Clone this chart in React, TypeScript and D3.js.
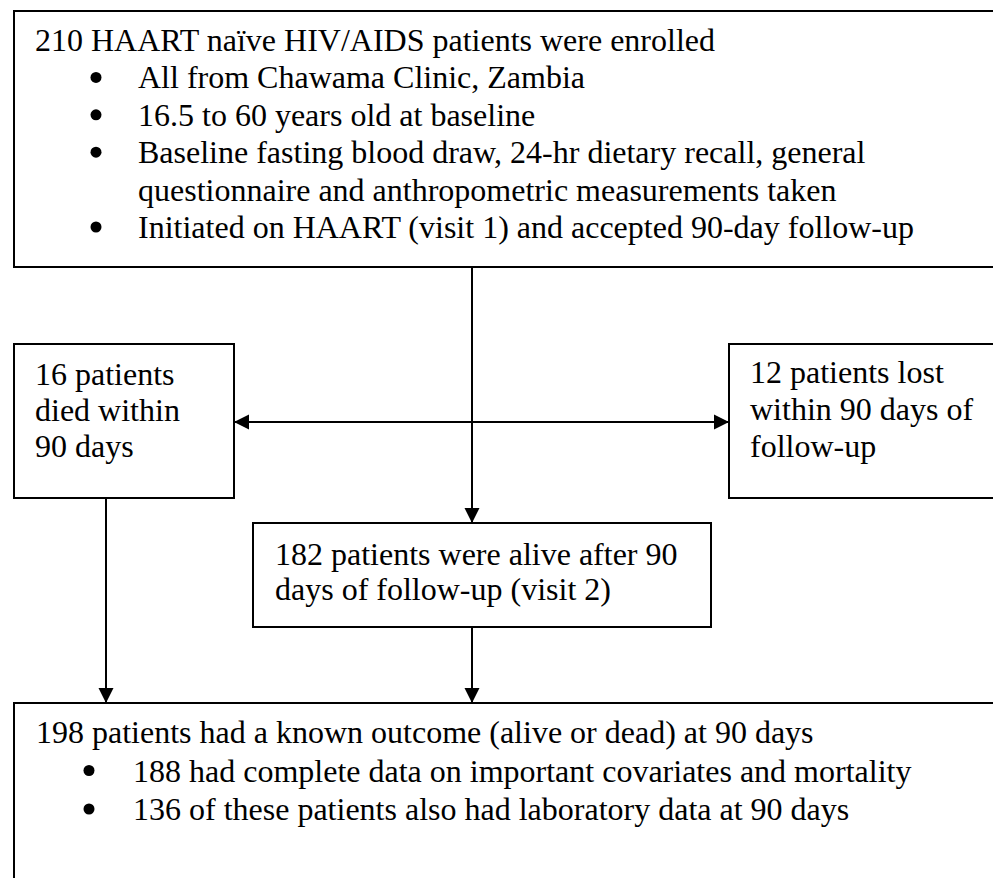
import * as d3 from 'd3'
import React, { useRef, useEffect } from 'react'

// flowchart text, one array per box
const enrolledTitle = '210 HAART naïve HIV/AIDS patients were enrolled'
const enrolledBullets = [
  ['All from Chawama Clinic, Zambia'],
  ['16.5 to 60 years old at baseline'],
  ['Baseline fasting blood draw, 24-hr dietary recall, general', 'questionnaire and anthropometric measurements taken'],
  ['Initiated on HAART (visit 1) and accepted 90-day follow-up'],
]
const diedLines = ['16 patients', 'died within', '90 days']
const lostLines = ['12 patients lost', 'within 90 days of', 'follow-up']
const aliveLines = ['182 patients were alive after 90', 'days of follow-up (visit 2)']
const outcomeTitle = '198 patients had a known outcome (alive or dead) at 90 days'
const outcomeBullets = [
  ['188 had complete data on important covariates and mortality'],
  ['136 of these patients also had laboratory data at 90 days'],
]

export default function App() {
  const svgRef = useRef()

  useEffect(() => {
    const w = 993
    const h = 878
    const svg = d3.select(svgRef.current)
      .attr('width', w)
      .attr('height', h)
    svg.selectAll('*').remove()

    const font = '"Liberation Serif", "Times New Roman", serif'
    const fs = 32

    // boxes (some run off the page on the right / bottom like the original)
    const boxes = [
      { x: 14, y: 11, w: 1100, h: 256 },   // enrolled
      { x: 14, y: 344, w: 220, h: 154 },   // died
      { x: 729, y: 344, w: 400, h: 154 },  // lost
      { x: 253, y: 523, w: 458, h: 104 },  // alive
      { x: 14, y: 703, w: 1100, h: 400 },  // outcome
    ]
    svg.selectAll('rect.box')
      .data(boxes)
      .join('rect')
      .attr('class', 'box')
      .attr('x', d => d.x)
      .attr('y', d => d.y)
      .attr('width', d => d.w)
      .attr('height', d => d.h)
      .attr('fill', 'white')
      .attr('stroke', '#000')
      .attr('stroke-width', 2)

    // connector lines
    const lines = [
      [472, 267, 472, 523],
      [234, 422, 729, 422],
      [106, 498, 106, 703],
      [472, 627, 472, 703],
    ]
    svg.selectAll('line.link')
      .data(lines)
      .join('line')
      .attr('class', 'link')
      .attr('x1', d => d[0]).attr('y1', d => d[1])
      .attr('x2', d => d[2]).attr('y2', d => d[3])
      .attr('stroke', '#000')
      .attr('stroke-width', 2)

    // arrow heads: tip point + direction
    const heads = [
      { x: 472, y: 523, dir: 'down' },
      { x: 106, y: 703, dir: 'down' },
      { x: 472, y: 703, dir: 'down' },
      { x: 234, y: 422, dir: 'left' },
      { x: 729, y: 422, dir: 'right' },
    ]
    const L = 15, half = 7.5
    const headPts = d => {
      if (d.dir === 'down') return [[d.x, d.y], [d.x - half, d.y - L], [d.x + half, d.y - L]]
      if (d.dir === 'left') return [[d.x, d.y], [d.x + L, d.y - half], [d.x + L, d.y + half]]
      return [[d.x, d.y], [d.x - L, d.y - half], [d.x - L, d.y + half]]
    }
    svg.selectAll('path.head')
      .data(heads)
      .join('path')
      .attr('class', 'head')
      .attr('d', d => d3.line()(headPts(d)) + 'Z')
      .attr('fill', '#000')

    // plain text helper
    const addText = (str, x, y) => svg.append('text')
      .attr('x', x)
      .attr('y', y)
      .attr('font-family', font)
      .attr('font-size', fs)
      .attr('fill', '#000')
      .text(str)

    // bullets block
    const bulletBlock = (title, bullets, x, y0, bx, tx, step) => {
      addText(title, x, y0)
      let y = y0
      bullets.forEach(b => {
        b.forEach((line, i) => {
          y += step
          if (i === 0) {
            svg.append('circle').attr('cx', bx).attr('cy', y - 11).attr('r', 5.5).attr('fill', '#000')
          }
          addText(line, tx, y)
        })
      })
    }

    bulletBlock(enrolledTitle, enrolledBullets, 35, 51, 96, 138, 37.4)
    bulletBlock(outcomeTitle, outcomeBullets, 36, 743, 89, 133, 38.5)

    diedLines.forEach((t, i) => addText(t, 35, 385 + i * 36))
    lostLines.forEach((t, i) => addText(t, 750, 383 + i * 37))
    aliveLines.forEach((t, i) => addText(t, 275, 565 + i * 35))
  }, [])

  return (
    <div style={{ position: 'absolute', left: 0, top: 0, background: 'white' }}>
      <svg ref={svgRef} style={{ display: 'block' }}></svg>
    </div>
  )
}
